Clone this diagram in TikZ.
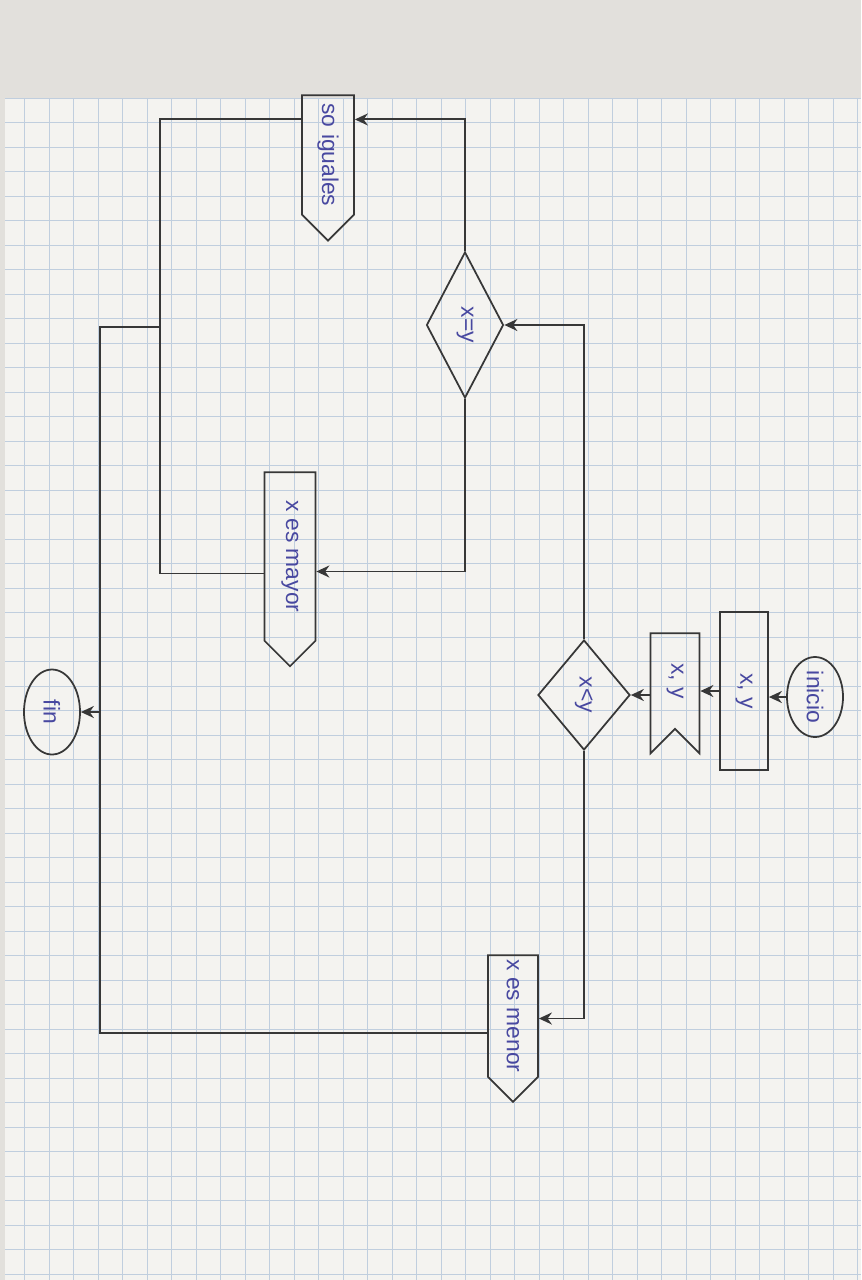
\documentclass[tikz,border=0pt]{standalone}
\usepackage{fontspec}
\setmainfont{Liberation Sans}
\usetikzlibrary{positioning,shapes.geometric,shapes.symbols,arrows.meta}

\definecolor{tinta}{RGB}{55,55,55}
\definecolor{boli}{RGB}{72,72,160}
\definecolor{cuadro}{RGB}{192,206,222}
\definecolor{papel}{RGB}{244,243,240}
\definecolor{fondo}{RGB}{226,224,220}

\newcommand{\vtexto}[1]{\rotatebox{-90}{#1}}

\begin{document}
\begin{tikzpicture}[
    font=\fontsize{13}{15}\selectfont,
    terminal/.style={ellipse, draw=tinta, line width=1pt, inner sep=0pt, text=boli},
    proceso/.style={rectangle, draw=tinta, line width=1pt, inner sep=0pt, text=boli},
    entrada/.style={signal, signal to=nowhere, signal from=south, draw=tinta,
                    line width=1pt, inner sep=0pt, text=boli},
    decision/.style={diamond, draw=tinta, line width=1pt, inner sep=0pt, text=boli},
    salida/.style={signal, signal to=south, signal from=nowhere, draw=tinta,
                   line width=1pt, inner sep=0pt, text=boli},
    flecha/.style={-{Stealth[length=2.6mm,width=2.4mm]}, tinta, line width=1.1pt},
    linea/.style={tinta, line width=1.1pt}
]
\useasboundingbox (0,0) rectangle (17.22,-25.6);

% Hoja cuadriculada
\fill[fondo] (0,0) rectangle (17.22,-25.6);
\fill[papel] (0.1,-1.95) rectangle (17.22,-25.6);
\draw[cuadro, line width=0.4pt, step=0.49cm] (0.1,-1.95) grid (17.22,-25.6);

% Nodos
\node[terminal, minimum width=1.12cm, minimum height=1.6cm] (inicio) at (16.30,-13.94) {\vtexto{inicio}};
\node[proceso, minimum width=0.96cm, minimum height=3.16cm] (datos) at (14.88,-13.82) {\vtexto{x, y}};
\node[entrada, minimum width=0.98cm, minimum height=2.08cm] (lectura) at (13.50,-13.62) {\vtexto{x, y}};
\node[decision, minimum width=1.84cm, minimum height=2.2cm] (menorq) at (11.68,-13.90) {\vtexto{x<y}};
\node[decision, minimum width=1.54cm, minimum height=2.92cm] (igualq) at (9.30,-6.50) {\vtexto{x=y}};
\node[salida, minimum width=1.04cm, minimum height=2.60cm] (iguales) at (6.56,-3.10) {\vtexto{so iguales}};
\node[salida, minimum width=1.02cm, minimum height=3.54cm] (mayor) at (5.80,-11.13) {\vtexto{x es mayor}};
\node[salida, minimum width=1.00cm, minimum height=2.56cm] (menor) at (10.26,-20.32) {\vtexto{x es menor}};
\node[terminal, minimum width=1.12cm, minimum height=1.7cm] (fin) at (1.04,-14.24) {\vtexto{fin}};

% Flujo principal
\draw[flecha] (inicio.west) -- (inicio.west -| datos.east);
\draw[flecha] (datos.west) -- (datos.west -| lectura.east);
\draw[flecha] (lectura.west |- menorq.east) -- (menorq.east);

% Ramas de las decisiones
\coordinate (igent) at ([yshift=-0.5cm]iguales.north east);
\coordinate (mayent) at ([yshift=-0.3cm]mayor.east);
\coordinate (menent) at ([yshift=-0.05cm]menor.east);
\draw[flecha] (menorq.north) |- (igualq.east);
\draw[flecha] (menorq.south) |- (menent);
\draw[flecha] (igualq.north) |- (igent);
\draw[flecha] (igualq.south) |- (mayent);

% Union hacia fin
\coordinate (igsal) at ([yshift=-0.5cm]iguales.north west);
\coordinate (maysal) at ([yshift=-0.34cm]mayor.west);
\coordinate (mensal) at ([yshift=-0.34cm]menor.west);
\coordinate (union) at (3.2,-6.54);
\coordinate (bajada) at (2.0,-6.54);
\draw[linea] (igsal) -| (union |- maysal) -- (maysal);
\draw[linea] (union) -- (bajada) -- (bajada |- mensal) -- (mensal);
\draw[flecha] (bajada |- fin.east) -- (fin.east);

\end{tikzpicture}
\end{document}
